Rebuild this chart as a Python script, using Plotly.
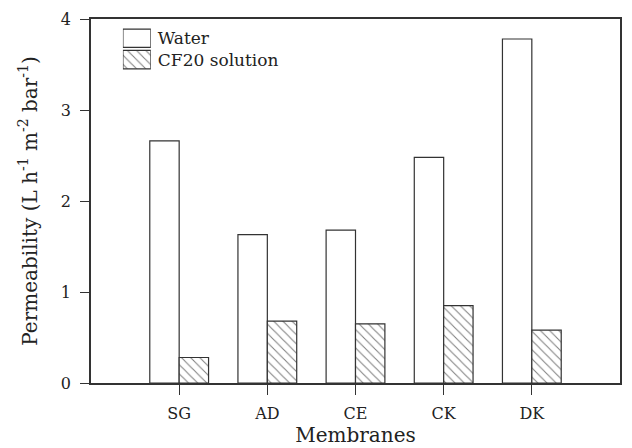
import plotly.graph_objects as go

# permeability values
membranes = ['SG', 'AD', 'CE', 'CK', 'DK']
water = [2.66, 1.63, 1.68, 2.48, 3.78]
cf20 = [0.28, 0.68, 0.65, 0.85, 0.58]
y_ticks = [0, 1, 2, 3, 4]

legend_names = ['CF20 solution', 'Water']
legend_shapes = ['\\', '']

FONT = 'DejaVu Serif'
LINE = '#333333'
HATCH = dict(shape='\\', fgcolor='black', bgcolor='white', size=6.5, solidity=0.16)

fig = go.Figure()
fig.add_trace(go.Bar(x=membranes, y=water, name='Water', showlegend=False,
                     marker=dict(color='white', line=dict(color=LINE, width=1.2))))
fig.add_trace(go.Bar(x=membranes, y=cf20, name='CF20 solution', showlegend=False,
                     marker=dict(color='white', line=dict(color=LINE, width=1.2), pattern=HATCH)))

# legend drawn as a small inset so the boxes get the real hatch and size
fig.add_trace(go.Bar(y=legend_names, x=[1, 1], orientation='h', width=0.86,
                     xaxis='x2', yaxis='y2', showlegend=False, hoverinfo='skip',
                     marker=dict(color='white', line=dict(color=LINE, width=1.2),
                                 pattern=dict(HATCH, shape=legend_shapes))))

fig.update_layout(
    width=632, height=448,
    margin=dict(l=91, r=10, t=14, b=65),
    paper_bgcolor='white', plot_bgcolor='white',
    barmode='group', bargap=1/3, bargroupgap=0,
    font=dict(family=FONT, size=16, color='#222'),
    xaxis=dict(range=[-1, 5], showline=True, linecolor=LINE, linewidth=1.5, mirror=True,
               ticks='outside', ticklen=10, tickcolor=LINE, showgrid=False,
               ticklabelstandoff=5, tickfont=dict(size=16),
               title=dict(text='Membranes', font=dict(size=20), standoff=0)),
    yaxis=dict(range=[0, 4], tickvals=y_ticks, showline=True, linecolor=LINE, linewidth=1.5,
               mirror=True, ticks='outside', ticklen=9, tickcolor=LINE, showgrid=False,
               zeroline=False, ticklabelstandoff=6, tickfont=dict(size=16),
               title=dict(text='Permeability (L h<sup>-1</sup> m<sup>-2</sup> bar<sup>-1</sup>)',
                          font=dict(size=20), standoff=18)),
    xaxis2=dict(domain=[0.0603, 0.1131], range=[0, 1], anchor='y2', visible=False),
    yaxis2=dict(domain=[0.859, 0.9764], anchor='x2', side='right', showline=False,
                showgrid=False, zeroline=False, ticks='', ticklabelstandoff=6,
                tickfont=dict(size=17)),
)

fig.write_html('out.html', config={'displayModeBar': False},
               post_script="document.body.style.margin='0';")
